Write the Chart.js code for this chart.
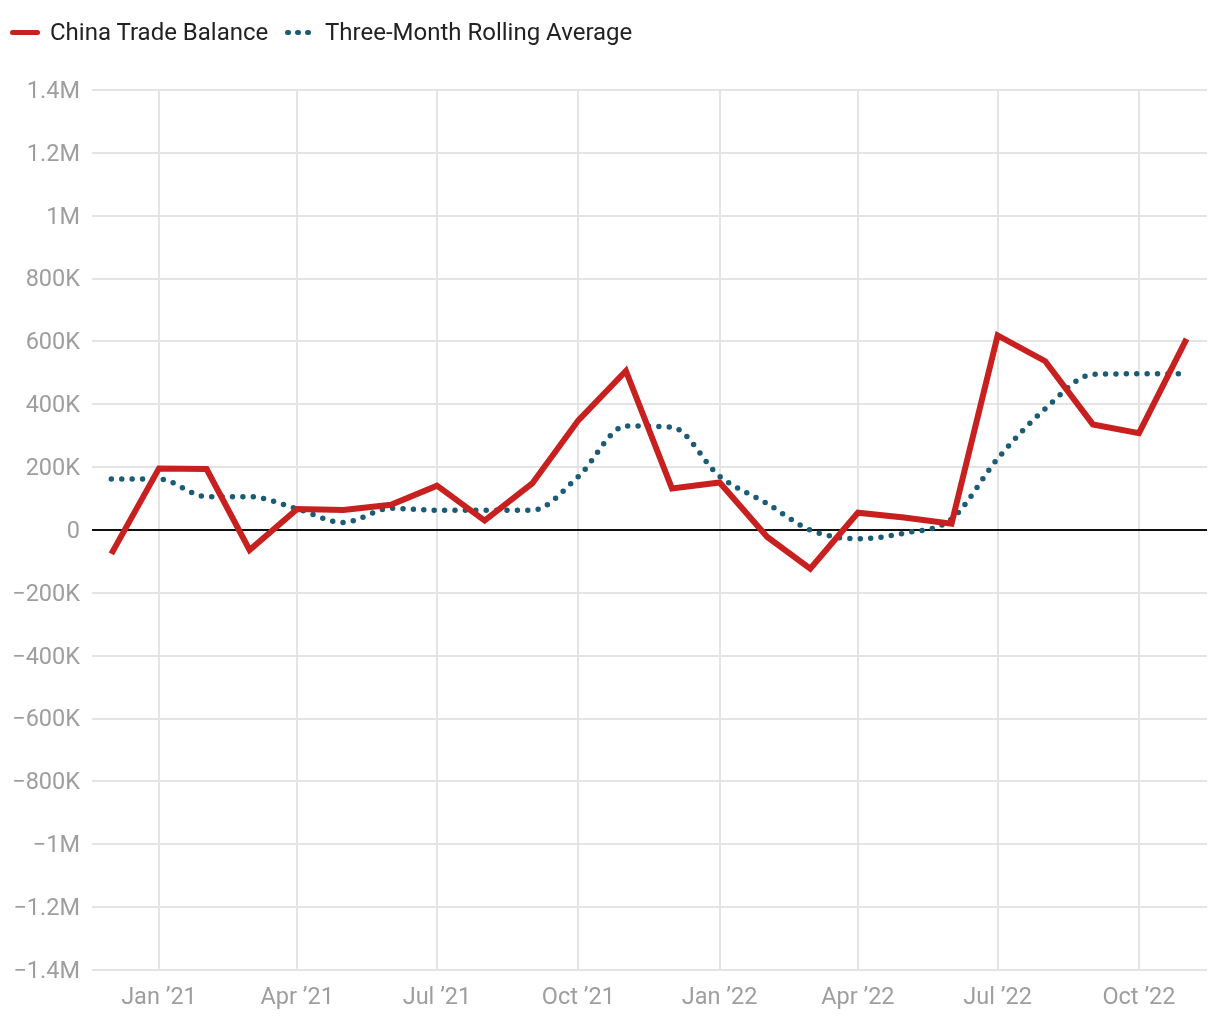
<!DOCTYPE html>
<html>
<head>
<meta charset="utf-8">
<script src="https://cdn.jsdelivr.net/npm/chart.js@4/dist/chart.umd.min.js"></script>
<style>
  html, body { margin: 0; padding: 0; background: #fff; }
  #wrap { position: relative; width: 1220px; height: 1020px; font-family: Roboto, sans-serif; }
  #legend { position: absolute; left: 0; top: 18px; height: 28px; font-size: 24px; color: #222; white-space: nowrap; }
  .item { position: absolute; top: 0; line-height: 28px; }
  .swatch-line { position: absolute; top: 11.5px; width: 30px; height: 5.5px; border-radius: 3px; background: #c8201f; }
  .dot { position: absolute; top: 11.5px; width: 5.5px; height: 5.5px; border-radius: 50%; background: #1a5c76; }
  canvas { position: absolute; left: 0; top: 0; }
</style>
</head>
<body>
<div id="wrap">
  <canvas id="chart" width="1220" height="1020"></canvas>
  <div id="legend">
    <span class="swatch-line" style="left:10px"></span>
    <span class="item" style="left:50px">China Trade Balance</span>
    <span class="dot" style="left:285px"></span>
    <span class="dot" style="left:295px"></span>
    <span class="dot" style="left:305px"></span>
    <span class="item" style="left:325px">Three-Month Rolling Average</span>
  </div>
</div>
<script>
// monthly data, Dec 2020 .. Nov 2022
const months = ['2020-12', '2021-01', '2021-02', '2021-03', '2021-04', '2021-05', '2021-06', '2021-07',
  '2021-08', '2021-09', '2021-10', '2021-11', '2021-12', '2022-01', '2022-02', '2022-03', '2022-04',
  '2022-05', '2022-06', '2022-07', '2022-08', '2022-09', '2022-10', '2022-11'];
const tradeBalance = [-76000, 196000, 194000, -64000, 67000, 64000, 80000, 141000,
  30000, 148000, 349000, 506000, 132000, 151000, -22000, -123000, 55000,
  40000, 20000, 619000, 537000, 336000, 308000, 608000];
const rollingAvg = [162000, 162000, 106000, 106000, 67000, 24000, 69000, 63000,
  63000, 63000, 170000, 331000, 327000, 171000, 84000, 0, -28000,
  -10000, 35000, 227000, 386000, 495000, 497000, 497000];
const tickMonths = ['2021-01', '2021-04', '2021-07', '2021-10', '2022-01', '2022-04', '2022-07', '2022-10'];
const tickLabels = ['Jan \u201921', 'Apr \u201921', 'Jul \u201921', 'Oct \u201921', 'Jan \u201922', 'Apr \u201922', 'Jul \u201922', 'Oct \u201922'];

function dayNum(ym) {
  const [y, m] = ym.split('-').map(Number);
  return Date.UTC(y, m - 1, 1) / 864e5;
}
const xs = months.map(dayNum);
const tickDays = tickMonths.map(dayNum);

function fmtY(v) {
  if (v === 0) return '0';
  const sign = v < 0 ? '\u2212' : '';
  const a = Math.abs(v);
  if (a >= 1e6) return sign + parseFloat((a / 1e6).toFixed(1)) + 'M';
  return sign + Math.round(a / 1000) + 'K';
}

const tickFont = { family: 'Roboto', size: 23.5 };

new Chart(document.getElementById('chart').getContext('2d'), {
  type: 'line',
  data: {
    datasets: [{
      label: 'China Trade Balance',
      data: xs.map((x, i) => ({ x: x, y: tradeBalance[i] })),
      borderColor: '#c8201f',
      borderWidth: 6,
      pointRadius: 0,
      tension: 0,
      borderJoinStyle: 'miter',
      order: 1
    }, {
      label: 'Three-Month Rolling Average',
      data: xs.map((x, i) => ({ x: x, y: rollingAvg[i] })),
      borderColor: '#1a5c76',
      borderWidth: 5.5,
      borderDash: [0, 10.4],
      borderCapStyle: 'round',
      pointRadius: 0,
      cubicInterpolationMode: 'monotone',
      order: 2
    }]
  },
  options: {
    responsive: false,
    animation: false,
    layout: { padding: { top: 90, right: 13, left: 0, bottom: 0 } },
    plugins: { legend: { display: false }, tooltip: { enabled: false } },
    scales: {
      x: {
        type: 'linear',
        min: xs[0] - 12.6,
        max: xs[xs.length - 1] + 13.3,
        afterBuildTicks: s => { s.ticks = tickDays.map(v => ({ value: v })); },
        afterFit: s => { s.height = 50; },
        border: { display: false },
        grid: { color: '#e4e4e4', lineWidth: 2, drawTicks: false },
        ticks: {
          padding: 14,
          color: '#9e9e9e',
          font: tickFont,
          maxRotation: 0,
          autoSkip: false,
          callback: v => tickLabels[tickDays.indexOf(v)]
        }
      },
      y: {
        min: -1400000,
        max: 1400000,
        afterFit: s => { s.width = 92; },
        border: { display: false },
        grid: {
          color: c => c.tick && c.tick.value === 0 ? '#111' : '#e4e4e4',
          lineWidth: 2,
          drawTicks: false
        },
        ticks: {
          stepSize: 200000,
          padding: 12,
          labelOffset: 2,
          color: '#9e9e9e',
          font: tickFont,
          callback: v => fmtY(v)
        }
      }
    }
  },
  plugins: [{
    // keep the zero line on top of the other grid lines
    id: 'zeroLine',
    beforeDatasetsDraw(chart) {
      const { ctx, chartArea, scales } = chart;
      const y = scales.y.getPixelForValue(0);
      ctx.save();
      ctx.strokeStyle = '#111';
      ctx.lineWidth = 2;
      ctx.beginPath();
      ctx.moveTo(chartArea.left, y);
      ctx.lineTo(chartArea.right, y);
      ctx.stroke();
      ctx.restore();
    }
  }]
});
</script>
</body>
</html>
